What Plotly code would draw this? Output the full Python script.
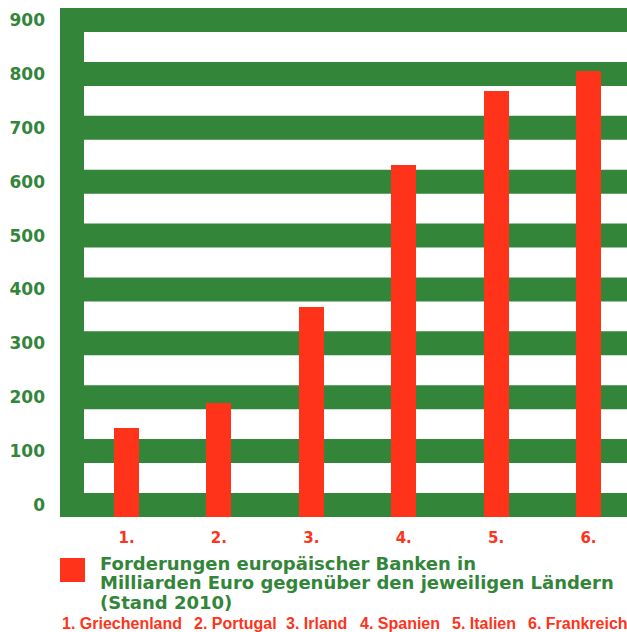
'''
Forderungen europaeischer Banken - bar chart with striped green grid
'''

import plotly.graph_objects as go

# Data
categories = ['1.', '2.', '3.', '4.', '5.', '6.']
countries  = ['Griechenland', 'Portugal', 'Irland', 'Spanien', 'Italien', 'Frankreich']
claims     = [143, 189, 368, 631, 768, 805]  # Mrd. Euro
tick_vals  = [0, 100, 200, 300, 400, 500, 600, 700, 800, 900]

legend_lines = ['Forderungen europäischer Banken in',
                'Milliarden Euro gegenüber den jeweiligen Ländern',
                '(Stand 2010)']

# Styles
green = '#33853a'
red = '#ff331a'
half_band = 22.3  # half height of each green stripe, in axis units
W, H = 627, 632
ml, mr, mt, mb = 60, 0, 8, H - 517
plot_w = W - ml - mr
plot_h = H - mt - mb

# helpers: pixel positions -> paper coords
def py(p):
    return (H - mb - p) / plot_h

def px(p):
    return (p - ml) / plot_w

fig = go.Figure()

# Bars start at the bottom of the lowest stripe
fig.add_trace(go.Bar(
    x=categories,
    y=[v + half_band for v in claims],
    base=-half_band,
    width=0.27,
    marker=dict(color=red, line=dict(width=0)),
    showlegend=False,
    hoverinfo='skip',
))

# Green stripes at every tick + vertical bar on the left
shapes = []
for v in tick_vals:
    shapes.append(dict(type='rect', xref='paper', yref='y', x0=0, x1=1,
                       y0=v - half_band, y1=v + half_band,
                       fillcolor=green, line=dict(width=0), layer='below'))
shapes.append(dict(type='rect', xref='paper', yref='paper', x0=0, x1=px(84),
                   y0=0, y1=1, fillcolor=green, line=dict(width=0), layer='below'))

# Legend square
shapes.append(dict(type='rect', xref='paper', yref='paper',
                   x0=px(60), x1=px(85), y0=py(582), y1=py(558),
                   fillcolor=red, line=dict(width=0)))

annotations = []
for i, line in enumerate(legend_lines):
    annotations.append(dict(
        text=line, xref='paper', yref='paper',
        x=px(98), y=py(563 + 19.5 * i), xanchor='left', yanchor='middle',
        showarrow=False,
        font=dict(family='DejaVu Sans', size=18, color=green, weight='bold'),
    ))

# Country key row along the bottom edge
key_starts = [60, 192, 284, 358, 450, 526]
for i, (cat, name) in enumerate(zip(categories, countries)):
    annotations.append(dict(
        text=f'{cat} {name}', xref='paper', yref='paper',
        x=px(key_starts[i]), y=py(623), xanchor='left', yanchor='middle',
        showarrow=False,
        font=dict(family='Liberation Sans', size=16, color=red, weight='bold'),
    ))

fig.update_layout(
    width=W, height=H,
    margin=dict(l=ml, r=mr, t=mt, b=mb, pad=0),
    template='none',
    paper_bgcolor='white',
    plot_bgcolor='white',
    bargap=0,
    hovermode=False,
    shapes=shapes,
    annotations=annotations,
    xaxis=dict(
        type='category', range=[-0.72, 5.417],
        showgrid=False, zeroline=False, showline=False,
        ticks='', ticklabelstandoff=10,
        tickfont=dict(family='DejaVu Sans', size=15, color=red, weight='bold'),
    ),
    yaxis=dict(
        range=[-half_band, 900 + half_band], tickvals=tick_vals,
        showgrid=False, zeroline=False, showline=False,
        ticks='', ticklabelstandoff=14,
        tickfont=dict(family='DejaVu Sans', size=17, color=green, weight='bold'),
    ),
)

# page body margin off so the figure fills the window
fig.write_html('out.html', config={'displayModeBar': False},
               post_script="document.body.style.margin='0';document.body.style.overflow='hidden';")
